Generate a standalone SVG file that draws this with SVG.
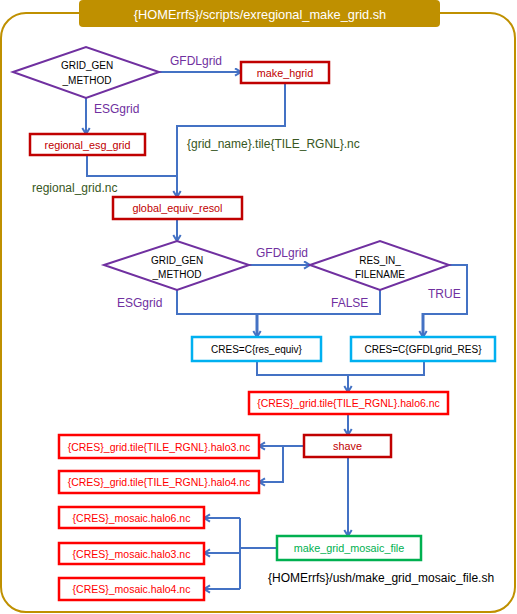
<svg xmlns="http://www.w3.org/2000/svg" width="517" height="614" viewBox="0 0 517 614">
<style>
.frame{fill:#fff;stroke:#BF9000;stroke-width:2}
.title{fill:#BF9000}
.ttl{font-family:"Liberation Sans",Arial,sans-serif;font-size:12.8px;fill:#fff;text-anchor:middle;dominant-baseline:central}
.dia{fill:#fff;stroke:#7030A0;stroke-width:2}
.dred{fill:#fff;stroke:#C00000;stroke-width:2.5}
.red{fill:#fff;stroke:#FF0000;stroke-width:2.5}
.cyan{fill:#fff;stroke:#00B0F0;stroke-width:2.5}
.grn{fill:#fff;stroke:#00B050;stroke-width:2.5}
.bt{font-family:"Liberation Sans",Arial,sans-serif;font-size:10.8px;text-anchor:middle;dominant-baseline:central}
.t-dred{fill:#C00000}
.t-red{fill:#FF0000;font-size:10.5px}
.t-blk{fill:#000;font-size:10px}
.t-grn{fill:#00B050}
.lbl{font-family:"Liberation Sans",Arial,sans-serif;font-size:12px;dominant-baseline:central}
.pur{fill:#7030A0}
.dg{fill:#385723}
.blk{fill:#000}
.conn path{fill:none;stroke:#4472C4;stroke-width:2}
.conn path.arr{marker-end:url(#ah)}
.conn path.thick{stroke-width:3}
</style>
<defs>
<marker id="ah" markerWidth="10" markerHeight="10" refX="7" refY="4.5" orient="auto" markerUnits="userSpaceOnUse">
<path d="M1,0.8 L7,4.5 L1,8.2" fill="none" stroke="#4472C4" stroke-width="2"/>
</marker>
</defs>

<rect class="frame" x="1" y="13" width="514" height="599" rx="25"/>
<g id="title">
<rect class="title" x="79" y="0" width="361" height="27" rx="4"/>
<text class="ttl" x="260" y="14">{HOMErrfs}/scripts/exregional_make_grid.sh</text>
</g>

<g class="conn" id="connectors">
<path class="arr" d="M159,72 H241"/>
<path class="arr" d="M86,98 V134"/>
<path class="arr" d="M285,83 V126 H177 V197"/>
<path d="M87,155 V176 H177"/>
<path class="arr" d="M177,219 V241"/>
<path class="arr" d="M249,265 H310"/>
<path d="M177,290 V314 H380 V290"/>
<path class="arr thick" d="M257,314 V337"/>
<path d="M449,265 H467 V314 H423"/>
<path class="arr thick" d="M423,313 V337"/>
<path d="M257,361 V375 H424 V361"/>
<path class="arr" d="M348,375 V392"/>
<path class="arr" d="M348,414 V435"/>
<path class="arr" d="M304,446 H259"/>
<path class="arr" d="M283,446 V482 H259"/>
<path class="arr" d="M348,457 V536"/>
<path d="M277,548 H240"/>
<path d="M240,518 V589"/>
<path class="arr" d="M240,518 H204"/>
<path class="arr" d="M240,553 H204"/>
<path class="arr" d="M240,589 H204"/>
</g>

<g id="labels">
<text class="lbl pur" x="170" y="61">GFDLgrid</text>
<text class="lbl pur" x="94" y="109">ESGgrid</text>
<text class="lbl dg" x="187" y="144">{grid_name}.tile{TILE_RGNL}.nc</text>
<text class="lbl dg" x="32" y="188">regional_grid.nc</text>
<text class="lbl pur" x="256" y="253">GFDLgrid</text>
<text class="lbl pur" x="117" y="303">ESGgrid</text>
<text class="lbl pur" x="331" y="303">FALSE</text>
<text class="lbl pur" x="428" y="294">TRUE</text>
<text class="lbl blk" x="268" y="578">{HOMErrfs}/ush/make_grid_mosaic_file.sh</text>
</g>

<g id="grid_gen_method_1">
<polygon class="dia" points="13,72 86,47 159,72 86,98"/>
<text class="bt t-blk" x="87" y="65">GRID_GEN</text>
<text class="bt t-blk" x="87" y="80">_METHOD</text>
</g>
<g id="make_hgrid">
<rect class="dred" x="241" y="62" width="88" height="21"/>
<text class="bt t-dred" x="285" y="72.5">make_hgrid</text>
</g>
<g id="regional_esg_grid">
<rect class="dred" x="30" y="134" width="115" height="21"/>
<text class="bt t-dred" x="87.5" y="144.5">regional_esg_grid</text>
</g>
<g id="global_equiv_resol">
<rect class="dred" x="113" y="197" width="129" height="22"/>
<text class="bt t-dred" x="177.5" y="208">global_equiv_resol</text>
</g>
<g id="grid_gen_method_2">
<polygon class="dia" points="104,265 177,241 249,265 177,290"/>
<text class="bt t-blk" x="177" y="260">GRID_GEN</text>
<text class="bt t-blk" x="177" y="274">_METHOD</text>
</g>
<g id="res_in_filename">
<polygon class="dia" points="310,265 380,241 449,265 380,290"/>
<text class="bt t-blk" x="380" y="260">RES_IN_</text>
<text class="bt t-blk" x="380" y="274">FILENAME</text>
</g>
<g id="cres_res_equiv">
<rect class="cyan" x="192" y="337" width="129" height="24"/>
<text class="bt t-blk" x="256.5" y="349">CRES=C{res_equiv}</text>
</g>
<g id="cres_gfdlgrid_res">
<rect class="cyan" x="351" y="337" width="144" height="24"/>
<text class="bt t-blk" x="423" y="349">CRES=C{GFDLgrid_RES}</text>
</g>
<g id="halo6">
<rect class="red" x="249" y="392" width="199" height="22"/>
<text class="bt t-red" x="348.5" y="403">{CRES}_grid.tile{TILE_RGNL}.halo6.nc</text>
</g>
<g id="shave">
<rect class="dred" x="304" y="435" width="87" height="22"/>
<text class="bt t-dred" x="347.5" y="446">shave</text>
</g>
<g id="halo3">
<rect class="red" x="59" y="435" width="200" height="23"/>
<text class="bt t-red" x="159" y="446.5">{CRES}_grid.tile{TILE_RGNL}.halo3.nc</text>
</g>
<g id="halo4">
<rect class="red" x="59" y="471" width="200" height="22"/>
<text class="bt t-red" x="159" y="482">{CRES}_grid.tile{TILE_RGNL}.halo4.nc</text>
</g>
<g id="make_grid_mosaic_file">
<rect class="grn" x="277" y="536" width="144" height="24"/>
<text class="bt t-grn" x="349" y="548">make_grid_mosaic_file</text>
</g>
<g id="mosaic_halo6">
<rect class="red" x="59" y="507" width="145" height="21"/>
<text class="bt t-red" x="131.5" y="517.5">{CRES}_mosaic.halo6.nc</text>
</g>
<g id="mosaic_halo3">
<rect class="red" x="59" y="543" width="145" height="21"/>
<text class="bt t-red" x="131.5" y="553.5">{CRES}_mosaic.halo3.nc</text>
</g>
<g id="mosaic_halo4">
<rect class="red" x="59" y="578" width="145" height="22"/>
<text class="bt t-red" x="131.5" y="589">{CRES}_mosaic.halo4.nc</text>
</g>
</svg>
